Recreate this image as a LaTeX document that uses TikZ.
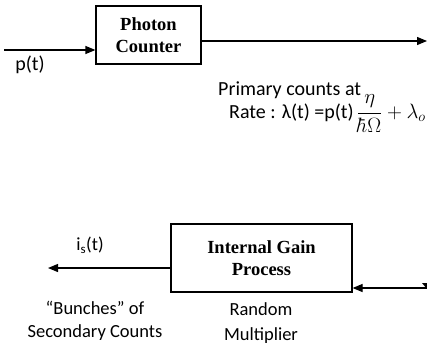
\documentclass[tikz,border=0pt]{standalone}
\usepackage{fontspec}
\setmainfont{Carlito}
\newfontfamily\boxfont{Liberation Serif}
\usetikzlibrary{arrows.meta}
\begin{document}
\begin{tikzpicture}[x=1pt,y=-1pt,
  blk/.style={draw,line width=1.2pt,inner sep=0pt,font=\boxfont\bfseries\fontsize{18.5}{22.5}\selectfont,align=center},
  conn/.style={line width=1.2pt,-{Triangle[length=10pt,width=8pt]}},
  lbl/.style={font=\fontsize{20}{24}\selectfont,inner sep=0pt,align=center},
  lbs/.style={font=\fontsize{18.5}{22}\selectfont,inner sep=0pt,align=center}]
\useasboundingbox (0,0) rectangle (427,348);
% top block
\node[blk,minimum width=105pt,minimum height=58pt] (pc) at (148.5,35) {Photon\\Counter};
\coordinate (in) at (4,50);
\coordinate (out) at (427,41);
\draw[conn] (in) -- (in -| pc.west);
\draw[conn] (pc.east |- out) -- (out);
\node[lbl] (pt) at (30,65) {p(t)};
\node[lbl,anchor=base west] (prim) at (218,95) {Primary counts at};
\node[lbl,anchor=base west] (rate) at (229,118) {Rate : λ(t) =p(t)\,$\displaystyle\frac{\eta}{\hbar\Omega}+\lambda_o$};
% bottom block
\node[blk,minimum width=181pt,minimum height=68pt] (ig) at (261.5,258) {Internal Gain\\Process};
\coordinate (left) at (48,268);
\coordinate (right) at (427,288);
\draw[conn] (ig.west |- left) -- (left);
\draw[conn] (right) -- (right -| ig.east);
\fill (422,283) -- (427,283) -- (427,289) -- cycle;
\node[lbs] (is) at (90,245) {i\textsubscript{s}(t)};
\node[lbs] (bunch) at (95,321) {“Bunches” of\\[1pt]Secondary Counts};
\node[lbs] (rand) at (261,323) {Random\\[3pt]Multiplier};
\end{tikzpicture}
\end{document}
